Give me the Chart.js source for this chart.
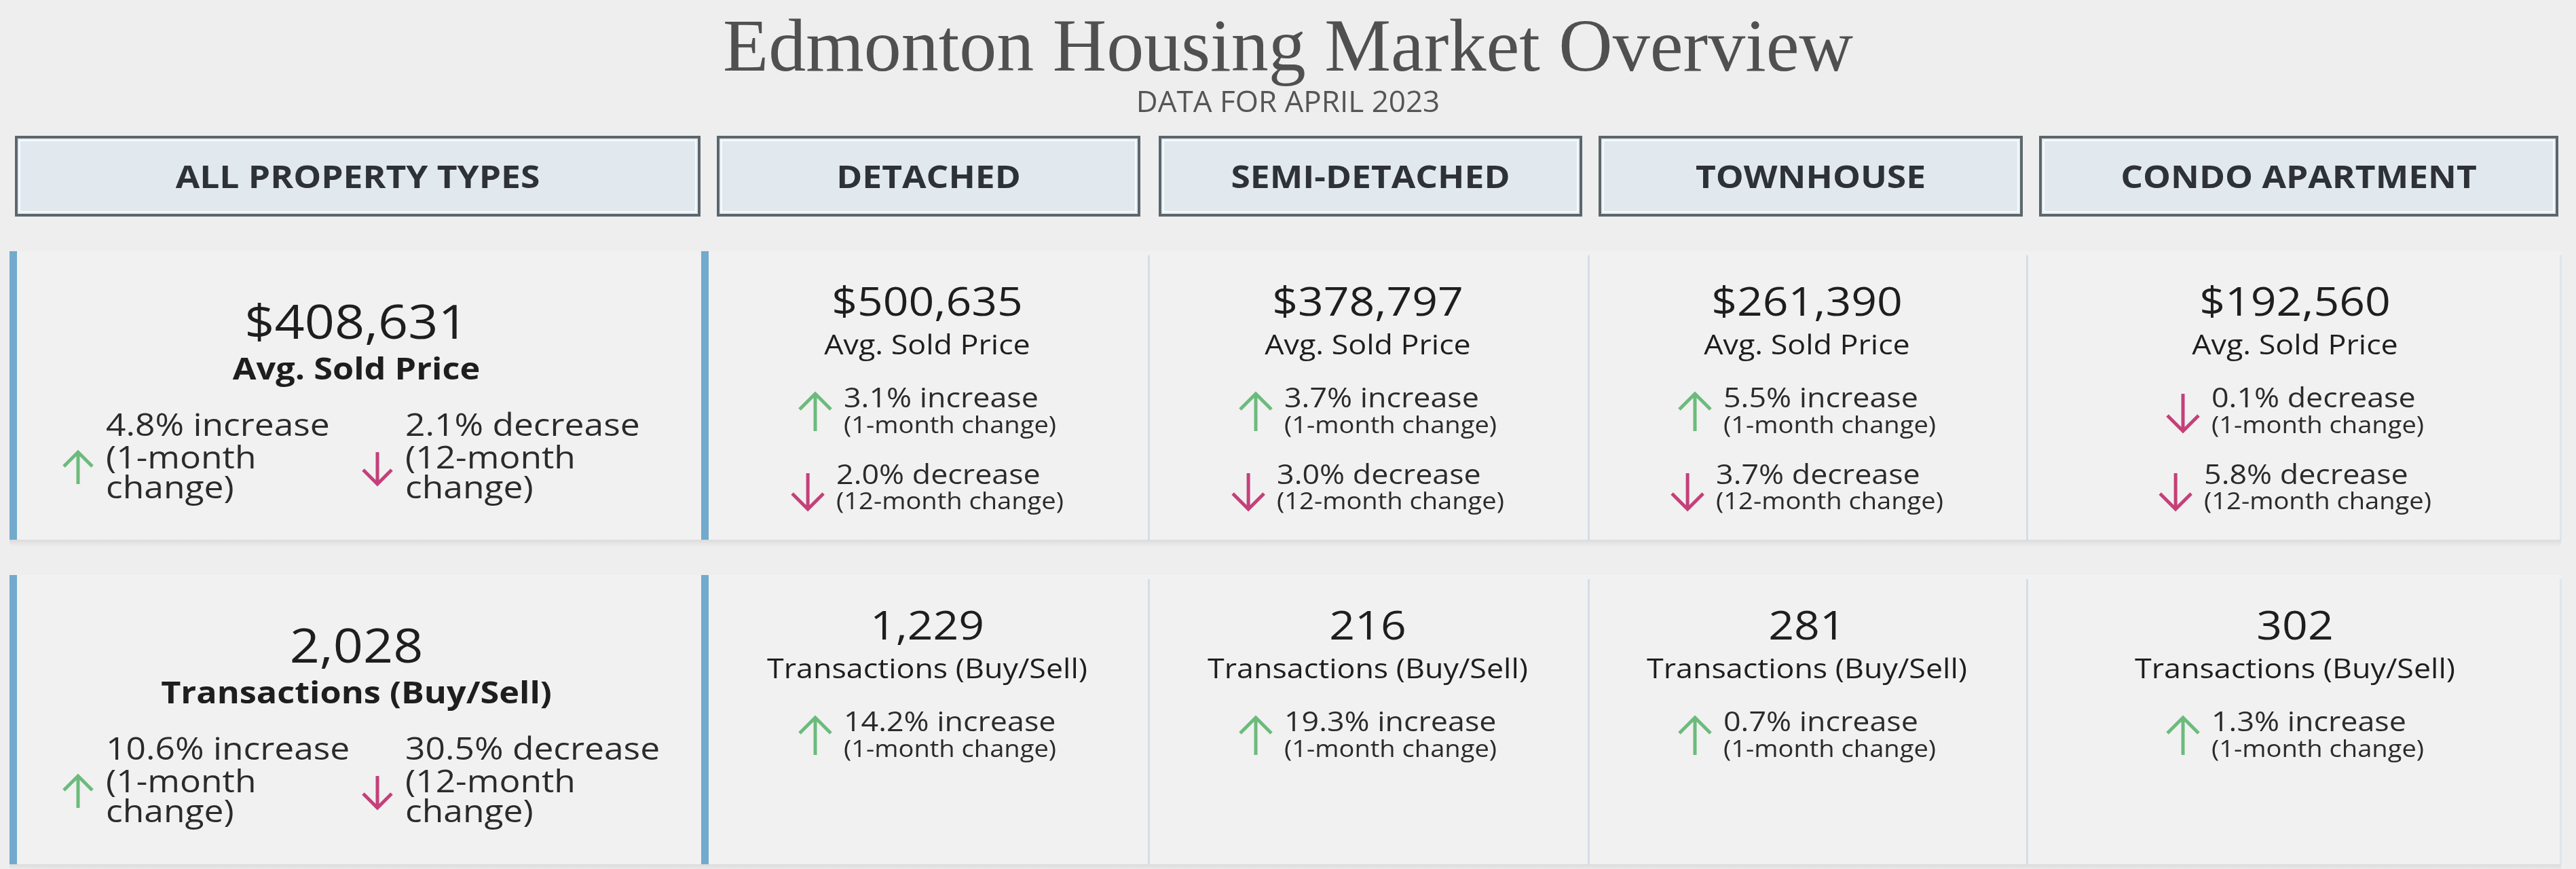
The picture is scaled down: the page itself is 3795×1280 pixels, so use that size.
<!DOCTYPE html>
<html>
<head>
<meta charset="utf-8">
<title>Edmonton Housing Market Overview</title>
<script src="https://cdn.jsdelivr.net/npm/chart.js@4.4.0/dist/chart.umd.min.js"></script>
<style>
  html, body { margin: 0; padding: 0; background: #eeeeee; }
  canvas { display: block; }
</style>
</head>
<body>
<canvas id="canvasDash" width="3795" height="1280"></canvas>
<script>
// data for April 2023
const tipos = ['ALL PROPERTY TYPES', 'DETACHED', 'SEMI-DETACHED', 'TOWNHOUSE', 'CONDO APARTMENT'];
const precoMedio = [408631, 500635, 378797, 261390, 192560];
const preco1m = [4.8, 3.1, 3.7, 5.5, -0.1];
const preco12m = [-2.1, -2.0, -3.0, -3.7, -5.8];
const vendas = [2028, 1229, 216, 281, 302];
const vendas1m = [10.6, 14.2, 19.3, 0.7, 1.3];
const vendas12m = [-30.5, null, null, null, null];

const FONT = '"Open Sans", "Noto Sans", sans-serif';
const SX = 1.12; // text in the picture is a bit wide

const headerX = [[24, 1030], [1058, 1678], [1709, 2329], [2357, 2978], [3006, 3767]];
const cardX = [[14, 1036], [1036, 1692], [1692, 2340], [2340, 2986], [2986, 3773]];
const rowY = [[370, 795], [847, 1273]];
const centros = [525, 1366, 2015, 2662, 3381];
const colunasGrande = [92, 533]; // left edge of the two change columns in the first card

const verde = '#6cbb7c';
const rosa = '#c4407a';

function txt(ctx, s, x, y, size, weight, color, align) {
  ctx.save();
  ctx.font = weight + ' ' + size + 'px ' + FONT;
  ctx.fillStyle = color;
  ctx.textBaseline = 'alphabetic';
  ctx.textAlign = align || 'center';
  ctx.translate(x, y);
  ctx.scale(SX, 1);
  ctx.fillText(s, 0, 0);
  ctx.restore();
}

function larg(ctx, s, size, weight) {
  ctx.save();
  ctx.font = weight + ' ' + size + 'px ' + FONT;
  const w = ctx.measureText(s).width * SX;
  ctx.restore();
  return w;
}

function seta(ctx, cx, top, bottom, up, color, head) {
  ctx.save();
  ctx.strokeStyle = color;
  ctx.lineWidth = 5;
  ctx.lineCap = 'butt';
  ctx.lineJoin = 'miter';
  ctx.beginPath();
  ctx.moveTo(cx, top);
  ctx.lineTo(cx, bottom);
  const tip = up ? top : bottom;
  const d = up ? head : -head;
  ctx.moveTo(cx - head, tip + d);
  ctx.lineTo(cx, tip);
  ctx.lineTo(cx + head, tip + d);
  ctx.stroke();
  ctx.restore();
}

function textoMudanca(v) {
  return Math.abs(v).toFixed(1) + '% ' + (v >= 0 ? 'increase' : 'decrease');
}

function dinheiro(v) {
  return '$' + v.toLocaleString('en-US');
}

function grupoLargura(ctx, linhas, sizes, arrowW, gap) {
  let m = 0;
  for (let k = 0; k < linhas.length; k++) {
    m = Math.max(m, larg(ctx, linhas[k], sizes[k], 'normal'));
  }
  return arrowW + gap + m;
}

function desenhaGrupo(ctx, left, top, v, linhas, sizes, ys, aTop, aBot, arrowW, gap) {
  const up = v >= 0;
  seta(ctx, left + arrowW / 2, top + aTop, top + aBot, up, up ? verde : rosa, arrowW / 2 - 2);
  for (let k = 0; k < linhas.length; k++) {
    txt(ctx, linhas[k], left + arrowW + gap, top + ys[k], sizes[k], 'normal', '#2b2b2b', 'left');
  }
}

function cartaoGrande(ctx, top, valor, rotulo, ch1, ch2) {
  const cx = centros[0];
  txt(ctx, valor, cx, top + 129, 69, 'normal', '#1e1e1e');
  txt(ctx, rotulo, cx, top + 189, 45, 'bold', '#1e1e1e');
  const subs = ['(1-month change)', '(12-month change)'];
  [ch1, ch2].forEach(function (v, k) {
    const linhas = [textoMudanca(v)].concat(subs[k].split(' '));
    desenhaGrupo(ctx, cardX[0][0] + colunasGrande[k] - 14, top, v, linhas, [46, 46, 46], [272, 320, 364], 296, 343, 46, 18);
  });
}

function cartaoPequeno(ctx, i, top, valor, rotulo, ch1, ch2) {
  const cx = centros[i];
  txt(ctx, valor, cx, top + 95, 59, 'normal', '#1e1e1e');
  txt(ctx, rotulo, cx, top + 152, 40, 'normal', '#1e1e1e');
  const lista = [[ch1, '(1-month change)', 230, 268, 210, 265], [ch2, '(12-month change)', 343, 380, 327, 380]];
  lista.forEach(function (c) {
    if (c[0] === null || c[0] === undefined) return;
    const linhas = [textoMudanca(c[0]), c[1]];
    const w = grupoLargura(ctx, linhas, [40, 34], 50, 17);
    desenhaGrupo(ctx, cx - w / 2, top, c[0], linhas, [40, 34], [c[2], c[3]], c[4], c[5], 50, 17);
  });
}

const fundoPlugin = {
  id: 'fundo',
  beforeDraw: function (chart) {
    const ctx = chart.ctx;
    ctx.save();
    ctx.fillStyle = '#eeeeee';
    ctx.fillRect(0, 0, chart.width, chart.height);
    ctx.restore();
  }
};

const painelPlugin = {
  id: 'painel',
  afterDraw: function (chart) {
    const ctx = chart.ctx;
    ctx.save();

    // header boxes
    tipos.forEach(function (t, i) {
      const x0 = headerX[i][0], x1 = headerX[i][1];
      ctx.fillStyle = '#e1e9ef';
      ctx.fillRect(x0, 202, x1 - x0, 115);
      ctx.strokeStyle = '#f7fbfe';
      ctx.lineWidth = 2;
      ctx.strokeRect(x0 + 5, 207, x1 - x0 - 10, 105);
      ctx.strokeStyle = '#5b666d';
      ctx.lineWidth = 4;
      ctx.strokeRect(x0, 202, x1 - x0, 115);
      txt(ctx, t, (x0 + x1) / 2, 277, 46, 'bold', '#2e3236');
    });

    // cards
    rowY.forEach(function (r) {
      cardX.forEach(function (c) {
        ctx.fillStyle = '#f1f1f1';
        ctx.fillRect(c[0], r[0], c[1] - c[0], r[1] - r[0]);
        const g = ctx.createLinearGradient(0, r[1], 0, r[1] + 10);
        g.addColorStop(0, 'rgba(0,0,0,0.08)');
        g.addColorStop(1, 'rgba(0,0,0,0)');
        ctx.fillStyle = g;
        ctx.fillRect(c[0], r[1], c[1] - c[0], 10);
      });
      cardX.forEach(function (c, i) {
        if (i < 2) {
          ctx.fillStyle = '#72aacd';
          ctx.fillRect(c[0] - (i === 0 ? 0 : 3), r[0], 11, r[1] - r[0]);
        } else {
          ctx.fillStyle = '#d4dde6';
          ctx.fillRect(c[0] - 1, r[0] + 6, 3, r[1] - r[0] - 6);
        }
      });
      ctx.fillStyle = '#dde5ec';
      ctx.fillRect(cardX[4][1] - 2, r[0] + 6, 3, r[1] - r[0] - 6);
    });

    // row 1: average sold price
    cartaoGrande(ctx, rowY[0][0], dinheiro(precoMedio[0]), 'Avg. Sold Price', preco1m[0], preco12m[0]);
    for (let i = 1; i < tipos.length; i++) {
      cartaoPequeno(ctx, i, rowY[0][0], dinheiro(precoMedio[i]), 'Avg. Sold Price', preco1m[i], preco12m[i]);
    }

    // row 2: transactions
    cartaoGrande(ctx, rowY[1][0], vendas[0].toLocaleString('en-US'), 'Transactions (Buy/Sell)', vendas1m[0], vendas12m[0]);
    for (let i = 1; i < tipos.length; i++) {
      cartaoPequeno(ctx, i, rowY[1][0], vendas[i].toLocaleString('en-US'), 'Transactions (Buy/Sell)', vendas1m[i], vendas12m[i]);
    }

    ctx.restore();
  }
};

const config = {
  type: 'bar',
  data: {
    labels: tipos,
    datasets: []
  },
  options: {
    responsive: false,
    devicePixelRatio: 1,
    animation: false,
    events: [],
    layout: { padding: 0 },
    scales: {
      x: { display: false },
      y: { display: false }
    },
    plugins: {
      legend: { display: false },
      tooltip: { enabled: false },
      title: {
        display: true,
        text: 'Edmonton Housing Market Overview',
        color: '#505050',
        font: { family: '"Liberation Serif", serif', size: 110, weight: 'normal', lineHeight: 1.0 },
        padding: { top: 20, bottom: 0 }
      },
      subtitle: {
        display: true,
        text: 'DATA FOR APRIL 2023',
        color: '#555555',
        font: { family: FONT, size: 44, weight: 'normal', lineHeight: 1.0 },
        padding: { top: 0, bottom: 0 }
      }
    }
  },
  plugins: [fundoPlugin, painelPlugin]
};

const graficoDash = new Chart(
  document.getElementById('canvasDash'),
  config
);
</script>
</body>
</html>
